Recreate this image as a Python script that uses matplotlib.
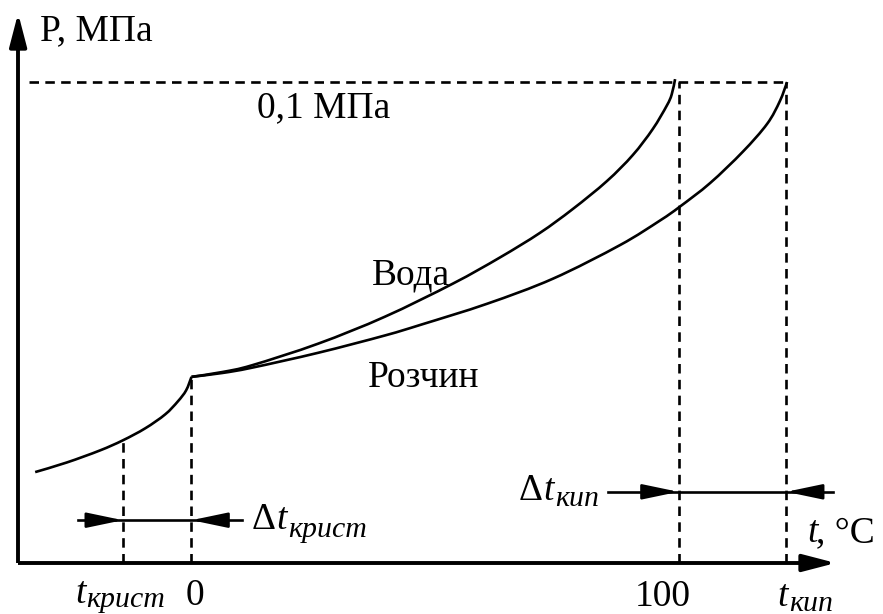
import matplotlib
matplotlib.use("Agg")
import matplotlib.pyplot as plt
import numpy as np
from matplotlib.path import Path
from matplotlib.patches import PathPatch

# ---- data (temperature in degC, pressure in MPa; schematic) ----
T_ICE = [-32.1, -25.6, -18.8, -14.1, -9.5, -5.4, -2.8, -1.1, 0.0]
P_ICE = [0.0189, 0.0209, 0.0234, 0.0255, 0.0280, 0.0309, 0.0336, 0.0359, 0.0387]

T_WATER = [0.0, 6.3, 12.4, 26.0, 39.7, 53.7, 63.3, 71.5, 78.3, 85.3, 90.6, 94.7, 97.6, 98.6, 99.3]
P_WATER = [0.0387, 0.0397, 0.0411, 0.0456, 0.0512, 0.0581, 0.0635, 0.0686, 0.0736, 0.0794,
           0.0848, 0.0902, 0.0951, 0.0974, 0.1006]

T_SOL = [0.0, 6.3, 12.4, 26.0, 39.7, 47.3, 60.7, 74.2, 88.0, 96.2, 100.3, 106.5, 113.2, 118.2, 120.8, 122.3]
P_SOL = [0.0387, 0.0395, 0.0406, 0.0437, 0.0473, 0.0496, 0.0539, 0.0591, 0.0661, 0.0712, 0.0741, 0.0790,
         0.0855, 0.0913, 0.0960, 0.1000]

T_KRIST = -14.1     # crystallisation temperature of solution
P_KRIST = 0.0255
T_TRIPLE = 0.0
P_TRIPLE = 0.0387
T_BOIL = 100.0
T_KIP = 122.1
P_ATM = 0.1

TICK_LABELS = ["0", "100"]

FONT = "Liberation Serif"
MAIN = 27
SUB = 21.5

fig = plt.figure(figsize=(8.83, 6.14), dpi=100)
ax = fig.add_axes([0, 0, 1, 1])
ax.set_xlim(-39.32, 141.99)
ax.set_ylim(-0.010603, 0.11705)
ax.axis("off")

k = "black"
lw_curve = 1.9
lw_dash = 1.9
dash = (0, (3.6, 2.4))


def smooth_curve(xs, ys):
    """Draw a smooth curve through the read points (Catmull-Rom as cubic Bezier)."""
    pts = np.column_stack([xs, ys]).astype(float)
    n = len(pts)
    verts = [pts[0]]
    codes = [Path.MOVETO]
    for i in range(n - 1):
        p0 = pts[i - 1] if i > 0 else pts[i]
        p1 = pts[i]
        p2 = pts[i + 1]
        p3 = pts[i + 2] if i + 2 < n else pts[i + 1]
        verts += [p1 + (p2 - p0) / 6.0, p2 - (p3 - p1) / 6.0, p2]
        codes += [Path.CURVE4] * 3
    ax.add_patch(PathPatch(Path(verts, codes), fill=False, edgecolor=k, lw=lw_curve,
                           transform=ax.transData, capstyle="butt"))


# axes with arrows
X_AX0, X_AX1 = -35.6, 132.3
Y_AX1 = 0.1143
ax.plot([X_AX0, X_AX1 - 3], [0, 0], color=k, lw=2.8, solid_capstyle="butt")
ax.plot([X_AX0, X_AX0], [0, Y_AX1 - 0.003], color=k, lw=2.8, solid_capstyle="butt")
ax.annotate("", xy=(X_AX1, 0), xytext=(X_AX1 - 6, 0),
            arrowprops=dict(arrowstyle="-|>,head_length=1.0,head_width=0.26", color=k, lw=2.8,
                            mutation_scale=20, shrinkA=0, shrinkB=0))
ax.annotate("", xy=(X_AX0, Y_AX1), xytext=(X_AX0, Y_AX1 - 0.006),
            arrowprops=dict(arrowstyle="-|>,head_length=1.0,head_width=0.26", color=k, lw=2.8,
                            mutation_scale=20, shrinkA=0, shrinkB=0))

# curves
smooth_curve(T_ICE, P_ICE)
smooth_curve(T_WATER, P_WATER)
smooth_curve(T_SOL, P_SOL)

# dashed helper lines
ax.plot([-33.4, T_KIP], [P_ATM, P_ATM], color=k, lw=lw_dash, ls=dash)
ax.plot([T_KRIST, T_KRIST], [0, P_KRIST], color=k, lw=lw_dash, ls=dash)
ax.plot([T_TRIPLE, T_TRIPLE], [0, P_TRIPLE], color=k, lw=lw_dash, ls=dash)
ax.plot([T_BOIL, T_BOIL], [0, P_ATM], color=k, lw=lw_dash, ls=dash)
ax.plot([T_KIP, T_KIP], [0, P_ATM], color=k, lw=lw_dash, ls=dash)


# dimension arrows
def dim(y, x0, x1, tip_r, tip_l):
    ax.plot([x0, x1], [y, y], color=k, lw=lw_curve)
    ap = dict(arrowstyle="-|>,head_length=1.1,head_width=0.23", color=k, lw=lw_curve,
              mutation_scale=20, shrinkA=0, shrinkB=0)
    ax.annotate("", xy=(tip_r, y), xytext=(tip_r - 6, y), arrowprops=ap)
    ax.annotate("", xy=(tip_l, y), xytext=(tip_l + 6, y), arrowprops=ap)


P_DIM_KRIST = 0.0089
P_DIM_KIP = 0.0148
dim(P_DIM_KRIST, -23.3, 10.4, T_KRIST, T_TRIPLE)
dim(P_DIM_KIP, 85.5, 131.7, T_BOIL, T_KIP)


def txt(x, y, s, size=MAIN, style="normal"):
    ax.text(x, y, s, fontsize=size, fontfamily=FONT, fontstyle=style, ha="left", va="baseline", color=k)


txt(-31.1, 0.1087, "P, МПа")
txt(13.4, 0.0927, "0,1 МПа")
txt(37.1, 0.0580, "Вода")
txt(36.2, 0.0366, "Розчин")

# Δt_крист
txt(12.4, 0.00707, "Δ")
txt(17.4, 0.00707, "t", style="italic")
txt(19.8, 0.0054, "крист", size=SUB, style="italic")
# Δt_кип
txt(67.2, 0.0131, "Δ")
txt(72.2, 0.0131, "t", style="italic")
txt(74.6, 0.0118, "кип", size=SUB, style="italic")
# t, °C
txt(126.4, 0.00437, "t", style="italic")
txt(128.2, 0.00437, ", °C")

# bottom labels
txt(-23.9, -0.0083, "t", style="italic")
txt(-21.6, -0.0092, "крист", size=SUB, style="italic")
txt(-1.3, -0.0088, TICK_LABELS[0])
txt(91.1, -0.0090, TICK_LABELS[1])
txt(120.2, -0.0090, "t", style="italic")
txt(122.8, -0.0100, "кип", size=SUB, style="italic")

fig.savefig("out.png", dpi=100)
